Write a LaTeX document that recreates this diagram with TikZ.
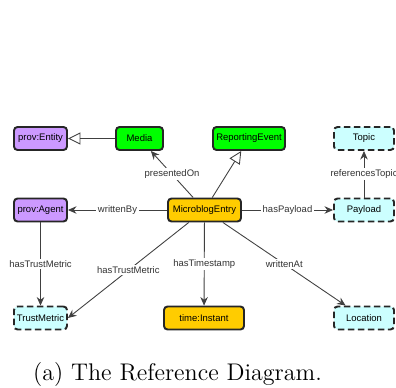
\documentclass[tikz,border=0pt]{standalone}
\usepackage{fontspec}
\newfontfamily\diafont{Liberation Sans}
\usetikzlibrary{arrows.meta}

\definecolor{provpurple}{HTML}{CC99FF}
\definecolor{classgreen}{HTML}{00FF00}
\definecolor{coreorange}{HTML}{FFCC00}
\definecolor{extcyan}{HTML}{CCFFFF}

\begin{document}
\begin{tikzpicture}[x=0.2mm,y=-0.2mm,
    cls/.style={draw=black!85,line width=1.1pt,rounded corners=2pt,
      minimum height=23*0.2mm,inner sep=0pt,
      font=\diafont\fontsize{5.4}{6}\selectfont},
    ext/.style={cls,fill=extcyan,dash pattern=on 1.3mm off 0.7mm},
    rel/.style={draw=black!75,line width=0.5pt,-{Stealth[length=1.7mm,width=1.5mm]}},
    isa/.style={draw=black!75,line width=0.5pt,-{Triangle[open,length=2.5mm,width=2.4mm]}},
    lbl/.style={fill=white,inner sep=1pt,text=black!80,
      font=\diafont\fontsize{5.4}{6}\selectfont}]
    \useasboundingbox (0,0) rectangle (396,387);

    % top row
    \node[cls,fill=provpurple,minimum width=53*0.2mm] (entity) at (40.5,138.5) {prov:Entity};
    \node[cls,fill=classgreen,minimum width=47*0.2mm] (media) at (139.5,138.5) {Media};
    \node[cls,fill=classgreen,minimum width=72*0.2mm] (repevent) at (249,138.5) {ReportingEvent};
    \node[ext,minimum width=60*0.2mm] (topic) at (364,138.5) {Topic};

    % middle row
    \node[cls,fill=provpurple,minimum width=53*0.2mm] (agent) at (40.5,210) {prov:Agent};
    \node[cls,fill=coreorange,minimum width=73*0.2mm] (entry) at (204.5,210) {MicroblogEntry};
    \node[ext,minimum width=60*0.2mm] (payload) at (364,210) {Payload};

    % bottom row
    \node[ext,minimum width=53*0.2mm] (trust) at (40.5,318) {TrustMetric};
    \node[cls,fill=coreorange,minimum width=80*0.2mm] (instant) at (204,318) {time:Instant};
    \node[ext,minimum width=60*0.2mm] (location) at (364,318) {Location};

    % subclass links
    \draw[isa] (media) -- (entity);
    \draw[isa] (entry) -- (repevent);

    % properties
    \draw[rel] (entry) -- node[lbl]{presentedOn} (media);
    \draw[rel] (entry) -- node[lbl]{writtenBy} (agent);
    \draw[rel] (entry) -- node[lbl]{hasPayload} (payload);
    \draw[rel] (payload) -- node[lbl]{referencesTopic} (topic);
    \draw[rel] (agent) -- node[lbl]{hasTrustMetric} (trust);
    \draw[rel] (entry) -- node[lbl]{hasTrustMetric} (trust.east);
    \draw[rel] (entry) -- node[lbl]{hasTimestamp} (instant);
    \draw[rel] (entry) -- node[lbl]{writtenAt} (location);

    % caption
    \node[inner sep=0pt,font=\fontsize{13.7}{16}\selectfont] (caption) at (177.5,374.5)
      {(a) The Reference Diagram.};

  \end{tikzpicture}
\end{document}
